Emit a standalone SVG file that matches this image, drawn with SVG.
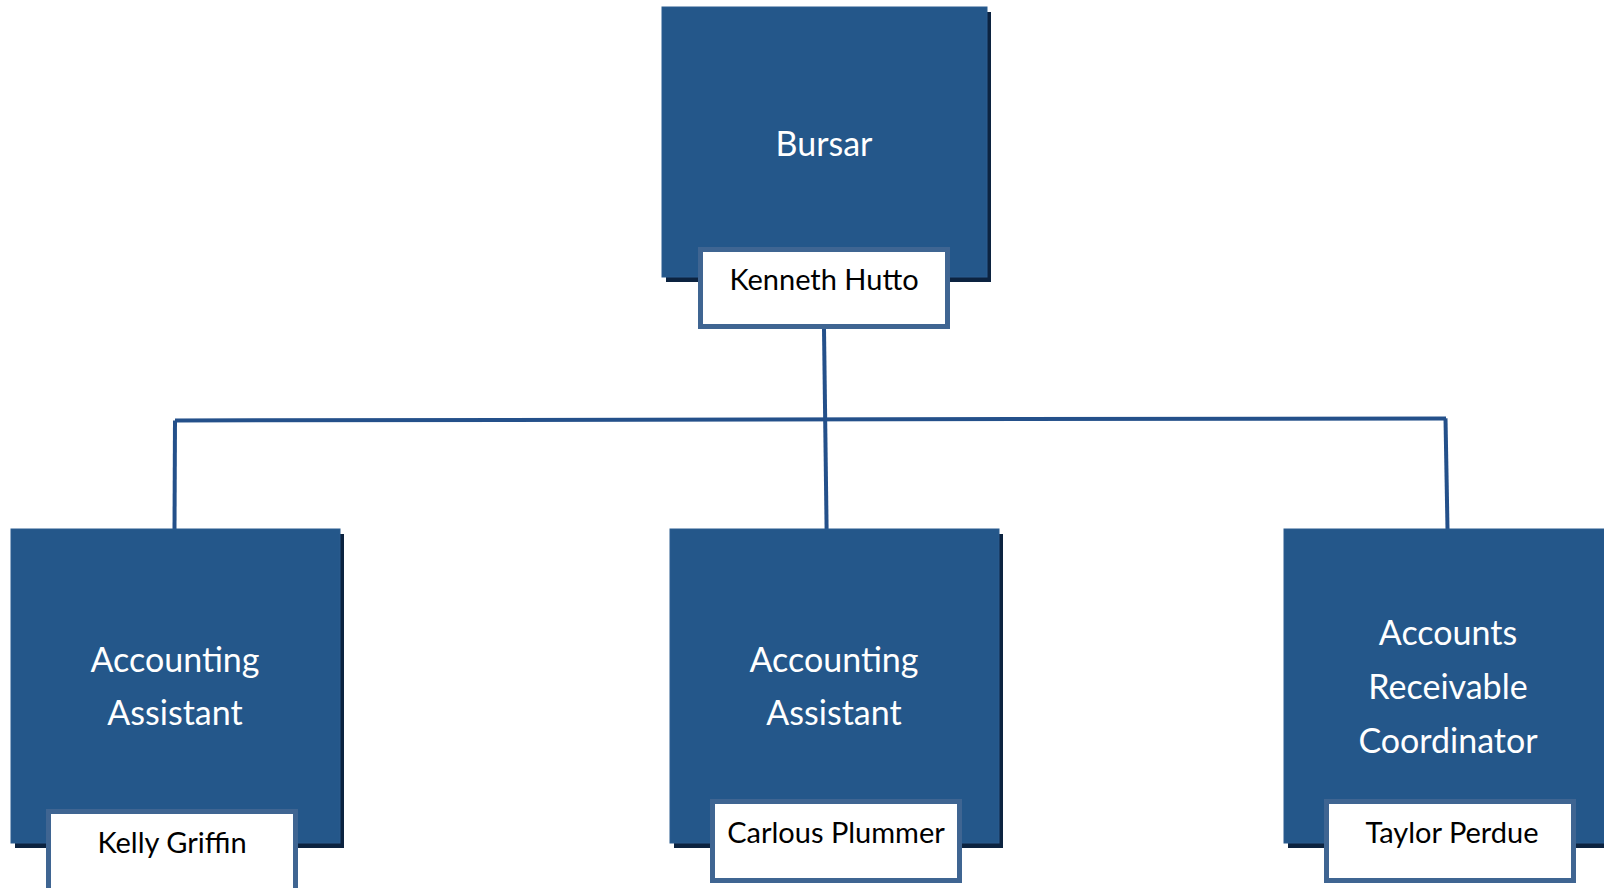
<svg xmlns="http://www.w3.org/2000/svg" width="1604" height="888" viewBox="0 0 1604 888">
  <defs>
    <style>
      .shadow { fill: #0c2340; }
      .box { fill: #24578a; stroke: #2b5d8f; stroke-width: 1; }
      .name { fill: #ffffff; stroke: #3f6592; stroke-width: 5; }
      .title { font-family: Lato, "Liberation Sans", sans-serif; font-size: 34px; fill: #ffffff; text-anchor: middle; }
      .nm { font-family: Lato, "Liberation Sans", sans-serif; font-size: 29px; fill: #000000; text-anchor: middle; }
      .conn { fill: none; stroke: #24508a; stroke-width: 4; }
    </style>
  </defs>
  <rect width="1604" height="888" fill="#ffffff"/>
  <g id="connectors">
    <path class="conn" d="M824,329 L826.6,529"/>
    <path class="conn" d="M175,420.5 L1446,418.4"/>
    <path class="conn" d="M175,420.5 L174.5,529"/>
    <path class="conn" d="M1445.5,418.4 L1447.5,529"/>
  </g>
  <g id="bursar">
    <rect class="shadow" x="666" y="12" width="325" height="270"/>
    <rect class="box" x="662" y="7" width="325" height="270"/>
    <text class="title" x="824" y="156">Bursar</text>
    <rect class="name" x="700.5" y="249.5" width="247" height="77"/>
    <text class="nm" x="824" y="290">Kenneth Hutto</text>
  </g>
  <g id="assistant1">
    <rect class="shadow" x="15" y="534" width="329" height="314"/>
    <rect class="box" x="11" y="529" width="329" height="314"/>
    <text class="title" x="175" y="672">Accounting</text>
    <text class="title" x="175" y="725">Assistant</text>
    <rect class="name" x="48.5" y="811.5" width="247" height="82"/>
    <text class="nm" x="172" y="853">Kelly Griffin</text>
  </g>
  <g id="assistant2">
    <rect class="shadow" x="674" y="534" width="329" height="314"/>
    <rect class="box" x="670" y="529" width="329" height="314"/>
    <text class="title" x="834" y="672">Accounting</text>
    <text class="title" x="834" y="725">Assistant</text>
    <rect class="name" x="712.5" y="801.5" width="247" height="79"/>
    <text class="nm" x="836" y="843">Carlous Plummer</text>
  </g>
  <g id="coordinator">
    <rect class="shadow" x="1288" y="534" width="329" height="314"/>
    <rect class="box" x="1284" y="529" width="329" height="314"/>
    <text class="title" x="1448" y="645">Accounts</text>
    <text class="title" x="1448" y="699">Receivable</text>
    <text class="title" x="1448" y="753">Coordinator</text>
    <rect class="name" x="1326.5" y="801.5" width="247" height="79"/>
    <text class="nm" x="1452" y="843">Taylor Perdue</text>
  </g>
</svg>
